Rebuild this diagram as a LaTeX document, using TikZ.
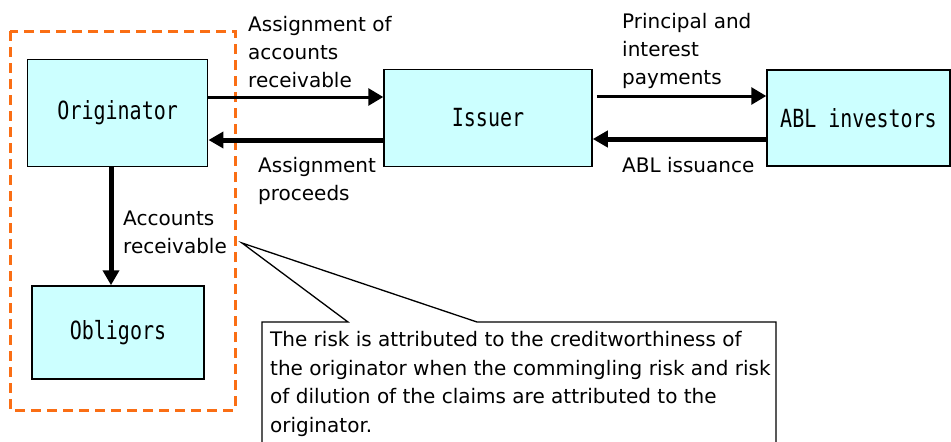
\documentclass[tikz,border=0pt]{standalone}
\usepackage{fontspec}
\setmainfont{DejaVu Sans}
\newfontfamily\boxfont[FakeStretch=0.8]{DejaVu Sans Mono}
\usetikzlibrary{arrows.meta}
\definecolor{boxcyan}{RGB}{204,255,255}
\definecolor{frameorange}{RGB}{250,110,20}
\tikzset{
  party/.style={draw, line width=1.5pt, fill=boxcyan, font=\boxfont\fontsize{25}{28}\selectfont},
  lbl/.style={anchor=base west, inner sep=0pt, align=left, font=\fontsize{20}{28}\selectfont},
  thinflow/.style={line width=3pt, -{Triangle[length=15pt,width=17pt]}},
  thickflow/.style={line width=5pt, -{Triangle[length=15pt,width=16pt]}}
}

\begin{document}
\begin{tikzpicture}[x=1pt, y=-1pt]
\useasboundingbox (0,0) rectangle (951,442);

\draw [frameorange, line width=3pt, dash pattern=on 10pt off 6pt] (10,31) rectangle (235,410);

\node [party, minimum width=180pt, minimum height=107pt] (orig) at (117.7,113) {Originator};
\node [party, minimum width=208pt, minimum height=97pt] (iss) at (488,118) {Issuer};
\node [party, minimum width=183pt, minimum height=96pt] (abl) at (858.5,118) {ABL investors};
\node [party, minimum width=172pt, minimum height=93pt] (obl) at (118,332.5) {Obligors};

\draw [thinflow] ([yshift=16pt]orig.east) -- ([yshift=16pt]orig.east -| iss.west); %orig-iss
\draw [thickflow] ([yshift=-22pt]iss.west) -- ([yshift=-22pt]iss.west -| orig.east); %iss-orig
\draw [thinflow] ([xshift=4pt,yshift=22pt]iss.east) -- ([yshift=22pt]iss.east -| abl.west); %iss-abl
\draw [thickflow] ([yshift=-21pt]abl.west) -- ([yshift=-21pt]abl.west -| iss.east); %abl-iss
\draw [thickflow] ([xshift=-6.7pt]orig.south) -- ([xshift=-6.7pt]orig.south |- obl.north); %orig-obl

% labels sit on the baseline of their last line
\node [lbl] (assign) at (248,87.5) {Assignment of\\accounts\\receivable};
\node [lbl] (proceeds) at (258,200) {Assignment\\proceeds};
\node [lbl] (payments) at (622,84) {Principal and\\interest\\payments};
\node [lbl] (issuance) at (622,172) {ABL issuance};
\node [lbl] (receiv) at (123,253) {Accounts\\receivable};

% callout
\coordinate (tip) at (242,243);
\draw [line width=1.3pt] (262,452) -- (262,322) -- (348,322) -- (tip) -- (477,322) -- (776,322) -- (776,452);
\node [lbl, font=\fontsize{20}{28.5}\selectfont] (risk) at (270,432) {The risk is attributed to the creditworthiness of\\the originator when the commingling risk and risk\\of dilution of the claims are attributed to the\\originator.};

\end{tikzpicture}
\end{document}
